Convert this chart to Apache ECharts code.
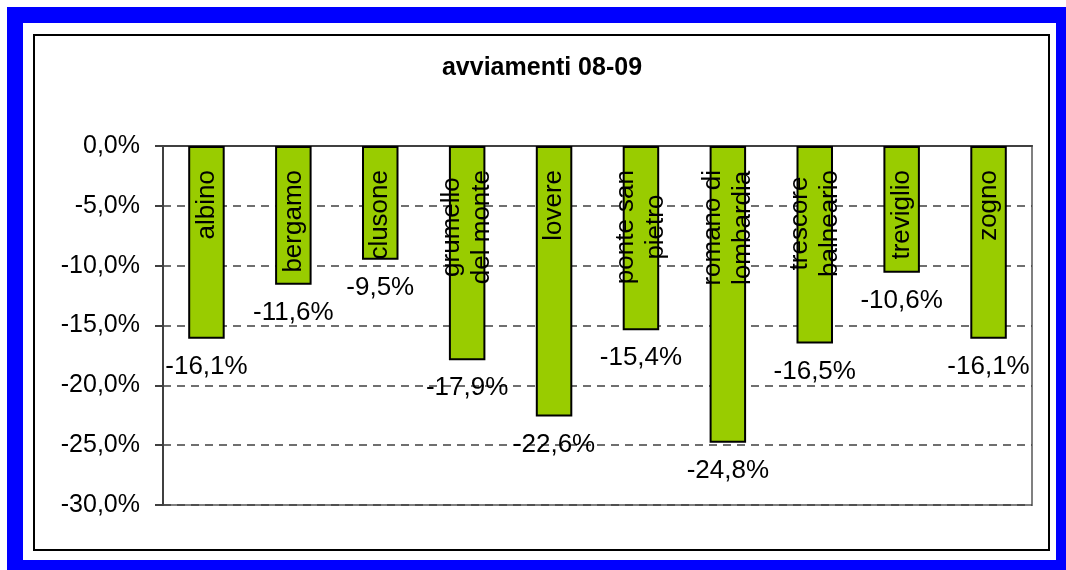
<!DOCTYPE html>
<html>
<head>
<meta charset="utf-8">
<script src="https://cdn.jsdelivr.net/npm/echarts@6/dist/echarts.min.js"></script>
<style>
  html, body { margin: 0; padding: 0; width: 1066px; height: 570px; overflow: hidden; background: #fff; }
  .frame { position: absolute; left: 7px; top: 7px; width: 1065px; height: 569px; box-sizing: border-box; border: 16px solid #0000ff; }
  .inner { position: absolute; left: 33px; top: 34px; width: 1017px; height: 517px; box-sizing: border-box; border: 2px solid #000; }
  #chart { position: absolute; left: 0; top: 0; width: 1066px; height: 570px; }
</style>
</head>
<body>
<div class="frame"></div>
<div class="inner"></div>
<div id="chart"></div>
<script>
// dati
const categories = ['albino', 'bergamo', 'clusone', 'grumello\ndel monte', 'lovere',
  'ponte san\npietro', 'romano di\nlombardia', 'trescore\nbalneario', 'treviglio', 'zogno'];
const values = [-16.1, -11.6, -9.5, -17.9, -22.6, -15.4, -24.8, -16.5, -10.6, -16.1];
const yTicks = [-30, -25, -20, -15, -10, -5, 0];

const fontName = '"Liberation Sans", Arial, sans-serif';
const fmt = v => v.toFixed(1).replace('.', ',') + '%';

// misura testo per posizionare le etichette ruotate
const ctx = document.createElement('canvas').getContext('2d');
ctx.font = '26px ' + fontName;
const textLen = s => Math.max(...s.split('\n').map(t => ctx.measureText(t).width));

const chart = echarts.init(document.getElementById('chart'));
chart.setOption({
  backgroundColor: 'transparent',
  animation: false,
  title: {
    text: 'avviamenti 08-09',
    left: 537,
    textAlign: 'center',
    top: 51,
    textStyle: { fontFamily: fontName, fontWeight: 'bold', fontSize: 25, color: '#000' }
  },
  grid: {
    left: 163, top: 146, right: 34, bottom: 65,
    show: true, borderColor: '#808080', borderWidth: 2
  },
  xAxis: {
    type: 'category',
    position: 'top',
    data: categories,
    axisLine: { lineStyle: { color: '#404040', width: 2 } },
    axisTick: { inside: true, length: 8, lineStyle: { color: '#404040', width: 2 } },
    axisLabel: { show: false }
  },
  yAxis: {
    type: 'value',
    min: yTicks[0],
    max: yTicks[yTicks.length - 1],
    interval: 5,
    axisLine: { show: true, lineStyle: { color: '#404040', width: 2 } },
    axisTick: { show: true, length: 8, lineStyle: { color: '#404040', width: 2 } },
    axisLabel: { margin: 23, fontFamily: fontName, fontSize: 25, color: '#000', formatter: fmt },
    splitLine: { lineStyle: { color: '#404040', width: 1.5, type: [8, 6] } }
  },
  series: [
    {
      type: 'bar',
      data: values,
      barWidth: '42%',
      itemStyle: { color: '#99cc00', borderColor: '#000', borderWidth: 2 },
      label: {
        show: true,
        position: 'bottom',
        distance: 15,
        fontFamily: fontName, fontSize: 26, color: '#000',
        formatter: p => fmt(p.value)
      },
      z: 2
    },
    {
      type: 'bar',
      barGap: '-100%',
      barWidth: '42%',
      data: values.map((v, i) => ({
        value: v,
        label: { position: ['50%', 24 + textLen(categories[i]) / 2] }
      })),
      itemStyle: { color: 'transparent' },
      label: {
        show: true,
        rotate: 90,
        align: 'center',
        verticalAlign: 'middle',
        lineHeight: 30,
        fontFamily: fontName, fontSize: 26, color: '#000',
        formatter: p => categories[p.dataIndex]
      },
      z: 3
    }
  ]
});
</script>
</body>
</html>
